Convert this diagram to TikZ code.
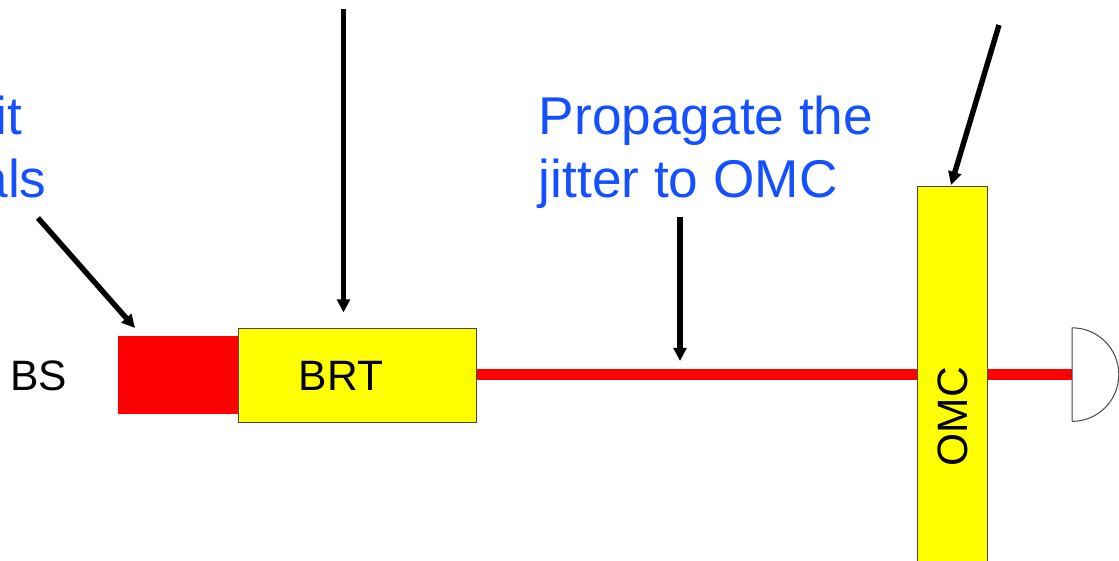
\documentclass[tikz,border=0pt]{standalone}
\usepackage{fontspec}
\setmainfont{Liberation Sans}
\usetikzlibrary{arrows.meta}
\definecolor{txtblue}{RGB}{20,80,255}
\definecolor{edgegray}{RGB}{70,70,70}
\definecolor{optyellow}{RGB}{255,255,0}
\definecolor{beamred}{RGB}{255,0,0}
\begin{document}
\begin{tikzpicture}[x=0.5pt,y=-0.5pt,
  ptr/.style={line width=2.7pt,-{Triangle[width=6.4pt,length=6.6pt]}},
  bluetxt/.style={text=txtblue,font=\fontsize{26.6pt}{31.5pt}\selectfont,inner sep=0pt},
  blacktxt/.style={text=black,font=\fontsize{21.25pt}{25pt}\selectfont,inner sep=0pt},
  optic/.style={draw=edgegray,line width=0.5pt,fill=optyellow,inner sep=0pt},
  beam/.style={draw=beamred,line width=5.5pt}]
\useasboundingbox (0,0) rectangle (1119,561);
% optics
\node[fill=beamred,inner sep=0pt,minimum width=60pt,minimum height=38.6pt,anchor=north west] (rb) at (118,336) {};
\node[optic,minimum width=119.2pt,minimum height=47pt,anchor=north west] (brt) at (237.6,327.7) {};
\node[optic,minimum width=35pt,minimum height=210pt,anchor=north west] (omc) at (916.7,186.5) {};
\coordinate (pd) at (1072,374.6);
\draw[beam] (brt.east |- pd) -- (omc.west |- pd);
\draw[beam] (omc.east |- pd) -- (pd);
\draw[draw=edgegray,fill=white,line width=0.5pt] (1072,421.4) -- (1072,327.8) arc[start angle=90,end angle=-90,radius=23.4pt] -- cycle;
% labels
\node[blacktxt,anchor=base west] (bs) at (10,390) {BS};
\node[blacktxt,anchor=base] (brtl) at (341,390) {BRT};
\node[blacktxt,rotate=90] (omcl) at (952.5,416.5) {OMC};
\node[bluetxt,anchor=base east] (t1) at (23,135) {it};
\node[bluetxt,anchor=base east] (t2) at (47,198) {als};
\node[bluetxt,anchor=base west] (p1) at (538.5,135) {Propagate the};
\node[bluetxt,anchor=base west] (p2) at (538.5,198) {jitter to OMC};
% arrows
\coordinate (a1s) at (343.5,9.5);
\coordinate (a1e) at (343.5,312.5);
\coordinate (a2s) at (38,218);
\coordinate (a2e) at (135,328);
\coordinate (a3s) at (680,217);
\coordinate (a3e) at (680,361);
\coordinate (a4s) at (999,25);
\coordinate (a4e) at (951,185);
\draw[ptr] (a1s) -- (a1e);
\draw[ptr] (a2s) -- (a2e);
\draw[ptr] (a3s) -- (a3e);
\draw[ptr] (a4s) -- (a4e);
\end{tikzpicture}
\end{document}
